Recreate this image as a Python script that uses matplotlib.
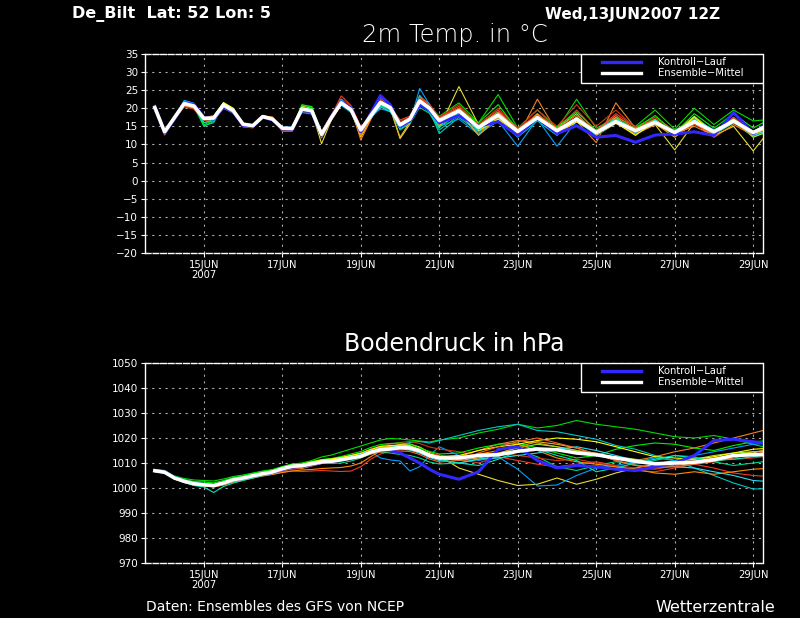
import matplotlib
matplotlib.use("Agg")
import matplotlib.pyplot as plt
from matplotlib.patches import Rectangle
from matplotlib.lines import Line2D

# time steps: hours after 13JUN2007 00Z (6-hourly to 21JUN, then 12-hourly)
hours = list(range(18, 193, 6)) + list(range(204, 397, 12))

tick_hours = [48, 96, 144, 192, 240, 288, 336, 384]
tick_labels = ["15JUN\n2007", "17JUN", "19JUN", "21JUN", "23JUN", "25JUN", "27JUN", "29JUN"]

member_colors = ["#00dc00", "#e6dc32", "#f08228", "#f03c28", "#00c8c8", "#00a0ff",
                 "#00d28c", "#a0e632", "#e6af2d", "#ff8c00", "#c83c14", "#00f000",
                 "#28dcf0", "#ffff00", "#fa6428", "#00e6b4"]

# ---- 2m temperature ----
temp_mean = [20.2, 13.5, 17.4, 21.3, 20.6, 17.2, 17.3, 20.9, 19.3, 15.6, 15.2, 17.7, 17.0, 14.5, 14.4,
             19.8, 19.3, 12.8, 17.4, 21.5, 19.6, 14.0, 17.9, 21.6, 20.2, 15.4, 17.0, 22.0, 20.0, 16.6,
             19.3, 14.7, 18.1, 13.6, 17.4, 13.8, 17.0, 13.3, 16.3, 13.8, 16.1, 13.3, 16.3, 13.5, 16.5, 13.3, 16.0]
temp_ctrl = [20.5, 13.2, 17.0, 21.5, 21.0, 17.5, 17.0, 20.5, 19.0, 15.3, 15.0, 17.5, 16.8, 14.3, 14.2,
             19.5, 19.0, 12.5, 17.6, 21.8, 20.0, 13.5, 18.5, 23.5, 21.0, 15.0, 16.5, 21.0, 19.5, 16.0,
             18.0, 15.0, 16.3, 12.5, 17.5, 13.0, 15.2, 12.0, 12.5, 10.6, 12.6, 12.9, 13.5, 12.5, 18.8, 13.0, 17.0]
temp_members = [
    [20.6, 13.8, 17.8, 21.8, 21.0, 16.5, 17.6, 21.2, 19.6, 15.4, 15.0, 17.4, 16.8, 14.2, 14.6, 20.8, 20.5, 13.2, 17.8, 22.2, 19.8, 13.8, 17.6, 20.8, 19.6, 15.8, 17.4, 22.5, 20.6, 17.8,
     21.5, 16.0, 23.8, 14.5, 19.6, 14.2, 22.5, 14.5, 17.5, 15.0, 19.5, 14.2, 20.0, 15.5, 19.5, 16.5, 17.0],
    [20.0, 13.2, 17.6, 21.6, 20.2, 17.0, 17.0, 21.4, 19.9, 15.8, 15.0, 17.8, 17.2, 14.2, 14.0, 19.5, 19.2, 10.2, 16.8, 21.0, 19.2, 12.0, 17.0, 21.2, 20.0, 11.6, 15.6, 22.5, 19.4, 14.6,
     26.0, 15.5, 18.5, 13.0, 18.0, 12.8, 17.5, 12.5, 15.8, 13.0, 15.5, 8.5, 16.0, 12.5, 15.0, 8.2, 15.0],
    [20.4, 12.6, 17.0, 20.8, 20.0, 16.8, 17.0, 20.4, 18.8, 15.2, 14.8, 17.9, 17.6, 14.0, 13.8, 19.2, 18.8, 12.4, 17.6, 22.0, 20.2, 11.2, 16.8, 22.8, 20.8, 15.0, 16.6, 23.5, 20.8, 16.2,
     18.5, 13.0, 17.5, 12.2, 22.5, 13.5, 16.5, 10.5, 21.5, 14.5, 17.0, 13.0, 15.0, 12.5, 17.5, 12.5, 15.5],
    [20.8, 13.0, 17.2, 20.5, 19.8, 16.0, 16.6, 20.2, 19.0, 14.8, 14.6, 17.6, 17.2, 13.6, 13.6, 19.0, 19.0, 13.4, 18.0, 23.4, 20.8, 14.8, 17.6, 22.0, 20.4, 16.8, 17.8, 23.2, 21.2, 17.4,
     20.5, 15.5, 19.5, 14.2, 18.5, 14.5, 19.5, 13.8, 18.5, 14.8, 17.5, 13.8, 17.5, 13.0, 17.5, 13.5, 16.5],
    [20.2, 13.8, 17.8, 22.0, 21.2, 15.2, 16.0, 21.0, 19.6, 15.6, 15.0, 17.5, 16.8, 14.4, 14.2, 19.6, 19.5, 13.0, 17.2, 21.2, 19.4, 14.5, 18.0, 21.0, 19.4, 14.2, 16.2, 23.5, 19.5, 13.0,
     17.5, 13.5, 17.0, 12.0, 16.5, 12.5, 17.5, 12.8, 16.5, 13.5, 16.0, 12.8, 16.5, 13.0, 16.5, 12.0, 14.5],
    [20.0, 13.4, 17.6, 22.2, 21.4, 16.8, 16.6, 20.0, 18.6, 15.2, 15.0, 17.6, 16.8, 14.8, 14.8, 18.8, 18.4, 13.2, 17.4, 20.8, 18.8, 14.6, 17.8, 19.8, 19.2, 14.6, 16.0, 25.5, 21.0, 15.0,
     17.0, 12.8, 16.5, 9.5, 17.0, 9.5, 16.5, 12.5, 16.0, 13.0, 16.0, 13.0, 17.0, 14.0, 16.0, 13.0, 15.5],
    [20.3, 13.6, 17.5, 21.2, 20.4, 15.0, 16.4, 20.6, 19.0, 15.4, 15.2, 17.4, 16.8, 14.6, 14.6, 20.2, 19.8, 13.0, 17.2, 21.6, 19.8, 14.2, 17.6, 20.6, 19.6, 14.0, 15.8, 20.2, 18.6, 14.0,
     18.0, 14.0, 17.5, 13.0, 17.0, 13.5, 17.0, 13.5, 16.5, 14.0, 16.0, 14.0, 16.5, 13.8, 17.0, 13.5, 16.0],
    [20.4, 13.4, 17.6, 21.4, 20.8, 17.6, 17.8, 21.4, 19.8, 15.8, 15.4, 17.8, 17.0, 14.6, 14.4, 20.6, 20.0, 12.0, 17.0, 21.8, 19.6, 13.0, 18.2, 22.2, 20.4, 15.0, 16.8, 21.5, 20.0, 17.0,
     20.0, 15.2, 19.0, 14.0, 18.0, 14.5, 18.5, 12.5, 17.0, 14.2, 16.8, 13.2, 17.8, 13.5, 17.0, 12.0, 14.0],
    [20.1, 13.0, 17.2, 21.0, 20.4, 17.4, 17.4, 20.8, 19.2, 15.4, 15.0, 17.8, 17.2, 14.4, 14.2, 19.6, 19.0, 13.4, 17.8, 21.4, 19.4, 13.2, 17.4, 21.4, 20.0, 12.0, 16.2, 22.8, 20.4, 15.2,
     19.0, 12.5, 17.5, 13.0, 18.5, 12.8, 17.0, 13.0, 17.5, 13.5, 15.8, 12.0, 16.0, 12.8, 16.0, 12.8, 15.0],
    [20.5, 13.6, 17.4, 20.6, 20.0, 17.2, 17.4, 20.6, 19.2, 15.4, 15.4, 18.0, 17.4, 14.0, 14.0, 19.4, 19.2, 11.8, 16.8, 21.2, 19.6, 12.6, 17.0, 21.4, 20.2, 15.6, 17.4, 21.8, 20.2, 16.8,
     19.0, 14.5, 18.0, 12.8, 17.8, 13.2, 17.5, 12.8, 16.0, 12.8, 15.5, 12.8, 16.0, 12.0, 15.5, 12.5, 14.5],
    [20.7, 12.8, 16.8, 20.4, 19.8, 16.6, 16.8, 20.0, 18.8, 15.0, 14.6, 17.4, 17.0, 13.8, 13.8, 19.2, 19.0, 13.6, 18.2, 22.6, 20.6, 14.8, 17.8, 22.4, 20.8, 16.4, 17.6, 22.8, 20.6, 17.6,
     21.0, 15.5, 20.0, 14.5, 19.5, 15.0, 21.0, 15.0, 19.5, 14.5, 17.5, 13.5, 17.0, 13.5, 16.0, 13.0, 16.0],
    [20.3, 13.6, 17.6, 21.6, 20.8, 15.4, 16.8, 21.2, 19.8, 15.8, 15.4, 17.6, 16.8, 14.6, 14.6, 21.0, 20.4, 12.6, 17.0, 21.4, 19.4, 14.0, 18.0, 21.0, 19.8, 16.0, 17.2, 21.8, 20.4, 16.8,
     19.5, 16.0, 21.0, 14.0, 17.5, 14.8, 19.0, 13.8, 17.0, 14.5, 18.0, 13.2, 18.5, 14.5, 18.5, 14.5, 17.5],
    [20.2, 13.8, 17.4, 21.6, 20.8, 17.0, 17.2, 20.8, 19.4, 15.6, 15.2, 17.6, 17.0, 14.4, 14.4, 19.4, 19.0, 12.8, 17.6, 22.4, 19.4, 14.4, 17.2, 20.4, 19.0, 15.4, 16.6, 21.2, 19.2, 15.8,
     18.5, 14.2, 18.8, 13.5, 17.0, 13.8, 16.8, 14.0, 17.0, 14.0, 16.5, 13.5, 17.0, 14.0, 16.8, 12.5, 14.5],
    [20.0, 13.4, 17.6, 21.4, 20.6, 17.6, 17.8, 21.6, 20.0, 15.6, 15.2, 17.8, 17.0, 14.6, 14.4, 19.8, 19.4, 12.6, 17.4, 21.2, 19.2, 13.6, 17.6, 21.8, 20.2, 15.8, 17.2, 21.6, 19.6, 16.0,
     19.5, 13.8, 17.0, 13.2, 17.5, 13.0, 16.2, 13.2, 16.0, 12.5, 16.5, 13.0, 17.5, 13.0, 17.0, 12.8, 15.5],
    [20.4, 13.2, 17.2, 21.0, 20.6, 17.6, 17.8, 20.6, 19.0, 15.8, 15.4, 18.0, 17.2, 14.2, 14.2, 19.6, 19.2, 13.0, 17.6, 21.8, 19.8, 14.0, 17.8, 21.8, 20.4, 15.8, 17.2, 22.4, 20.4, 17.2,
     20.0, 14.8, 18.8, 14.2, 18.0, 14.5, 18.0, 13.8, 18.0, 14.2, 16.5, 13.0, 15.5, 13.0, 16.5, 13.5, 15.0],
    [20.2, 13.4, 17.2, 21.2, 20.6, 16.0, 16.8, 20.4, 19.2, 15.4, 15.2, 17.6, 17.0, 14.4, 14.4, 20.0, 19.6, 13.4, 17.6, 21.2, 19.2, 13.6, 17.6, 21.0, 19.8, 15.0, 16.6, 21.0, 19.0, 14.8,
     18.5, 14.0, 18.0, 13.8, 17.0, 14.0, 17.5, 13.5, 16.0, 13.5, 16.8, 12.5, 17.0, 12.8, 16.0, 13.5, 16.5],
]

# ---- surface pressure ----
pres_mean = [1006.9, 1006.3, 1004.0, 1002.7, 1001.7, 1001.3, 1001.0, 1002.0, 1003.3, 1004.0, 1004.9, 1005.7, 1006.4, 1007.7, 1008.7,
             1008.9, 1009.7, 1010.4, 1010.7, 1011.3, 1012.0, 1012.7, 1014.3, 1015.3, 1015.6, 1016.2, 1016.0, 1014.9, 1013.0, 1012.0,
             1012.0, 1013.0, 1013.3, 1014.7, 1015.6, 1015.3, 1014.0, 1013.3, 1012.0, 1010.7, 1009.7, 1010.0, 1010.3, 1011.3, 1013.0, 1013.3, 1013.5]
pres_ctrl = [1007.0, 1006.4, 1004.2, 1002.8, 1001.8, 1001.4, 1001.2, 1002.0, 1003.2, 1004.0, 1004.8, 1005.6, 1006.2, 1007.4, 1008.4,
             1008.6, 1009.4, 1010.2, 1010.6, 1011.2, 1012.0, 1012.8, 1014.4, 1015.2, 1015.0, 1014.0, 1012.0, 1010.0, 1007.5, 1005.5,
             1003.5, 1006.5, 1015.5, 1016.5, 1011.0, 1008.0, 1009.0, 1008.5, 1007.5, 1007.0, 1008.5, 1010.0, 1013.0, 1019.0, 1019.5, 1018.5, 1017.5]
pres_members = [
    [1007.2, 1006.8, 1004.8, 1003.8, 1003.2, 1003.0, 1002.8, 1003.6, 1004.6, 1005.2, 1006.0, 1006.8, 1007.4, 1008.6, 1009.6, 1010.0, 1011.0, 1012.4, 1013.2, 1014.4, 1015.6, 1016.8, 1018.0, 1019.2, 1019.8, 1019.6, 1019.2, 1018.8, 1018.4, 1019.2,
     1020.0, 1022.0, 1023.5, 1025.5, 1024.0, 1025.0, 1027.0, 1025.5, 1024.5, 1023.5, 1022.0, 1020.5, 1020.0, 1021.0, 1019.5, 1017.5, 1015.5],
    [1006.6, 1006.0, 1003.6, 1002.2, 1001.4, 1001.0, 1000.6, 1001.6, 1003.0, 1003.8, 1004.8, 1005.8, 1006.6, 1008.0, 1009.0, 1009.4, 1010.2, 1010.8, 1011.2, 1012.0, 1013.0, 1014.0, 1015.2, 1016.0, 1016.6, 1017.2, 1017.6, 1016.4, 1014.2, 1012.8,
     1008.0, 1005.5, 1003.0, 1001.0, 1001.5, 1004.0, 1001.5, 1003.5, 1006.0, 1008.0, 1009.5, 1011.0, 1012.0, 1011.5, 1013.0, 1014.5, 1015.0],
    [1006.8, 1006.2, 1003.8, 1002.6, 1001.6, 1001.0, 1000.4, 1001.4, 1002.6, 1003.4, 1004.2, 1005.0, 1005.6, 1006.8, 1007.6, 1007.8, 1008.8, 1009.8, 1010.2, 1011.0, 1011.8, 1012.6, 1014.0, 1014.8, 1015.2, 1015.6, 1015.4, 1014.0, 1012.6, 1011.8,
     1012.5, 1015.0, 1017.5, 1019.0, 1018.0, 1016.5, 1015.0, 1014.0, 1012.0, 1011.0, 1012.5, 1014.5, 1016.0, 1018.0, 1020.0, 1022.0, 1024.0],
    [1007.0, 1006.4, 1004.2, 1002.8, 1001.8, 1001.6, 1001.4, 1002.2, 1003.4, 1004.0, 1004.6, 1005.2, 1005.8, 1006.4, 1006.8, 1006.6, 1006.8, 1007.0, 1006.8, 1006.6, 1006.8, 1008.5, 1011.5, 1013.6, 1014.6, 1015.4, 1015.2, 1014.4, 1013.6, 1013.2,
     1011.5, 1010.0, 1012.5, 1011.0, 1009.5, 1008.5, 1009.5, 1010.5, 1009.0, 1007.0, 1006.5, 1008.0, 1009.5, 1008.0, 1006.0, 1005.0, 1004.5],
    [1007.4, 1007.0, 1004.6, 1003.2, 1002.2, 1001.8, 1001.4, 1002.6, 1003.8, 1004.4, 1005.4, 1006.2, 1006.8, 1008.2, 1009.2, 1009.4, 1010.0, 1010.8, 1011.2, 1011.8, 1012.4, 1013.2, 1014.6, 1015.6, 1016.2, 1017.4, 1018.2, 1018.6, 1018.0, 1019.0,
     1021.0, 1023.0, 1024.5, 1025.5, 1023.0, 1022.5, 1021.0, 1019.5, 1017.0, 1015.5, 1013.0, 1011.0, 1008.0, 1005.0, 1002.0, 999.6, 999.8],
    [1006.8, 1006.2, 1004.0, 1002.6, 1001.6, 1001.2, 1001.0, 1001.8, 1003.2, 1003.8, 1004.6, 1005.4, 1006.0, 1007.4, 1008.4, 1008.6, 1009.4, 1010.2, 1010.6, 1011.2, 1012.2, 1013.0, 1014.6, 1012.0, 1011.2, 1010.8, 1006.8, 1008.5, 1013.0, 1016.5,
     1013.0, 1011.0, 1012.5, 1007.5, 1000.8, 1001.2, 1005.0, 1008.0, 1009.0, 1010.5, 1012.0, 1011.0, 1013.0, 1014.5, 1016.0, 1017.5, 1018.0],
    [1007.0, 1006.4, 1004.2, 1002.8, 1001.8, 1001.4, 1001.0, 1002.0, 1003.2, 1003.8, 1004.6, 1005.4, 1006.2, 1007.6, 1008.6, 1008.8, 1009.4, 1010.0, 1009.8, 1010.0, 1010.8, 1012.0, 1013.6, 1014.4, 1014.0, 1013.4, 1013.0, 1012.0, 1010.4, 1009.6,
     1010.0, 1011.5, 1013.0, 1015.0, 1012.5, 1008.5, 1007.0, 1009.0, 1010.5, 1009.5, 1011.0, 1013.0, 1012.5, 1010.5, 1009.0, 1010.0, 1011.0],
    [1006.6, 1006.0, 1003.8, 1002.4, 1001.4, 1001.0, 1000.8, 1001.8, 1003.2, 1004.2, 1005.2, 1006.2, 1007.0, 1008.4, 1009.4, 1009.6, 1010.4, 1011.2, 1011.6, 1012.2, 1012.8, 1013.4, 1014.8, 1015.8, 1016.2, 1016.6, 1016.4, 1015.2, 1013.4, 1012.4,
     1012.0, 1013.5, 1014.0, 1016.0, 1017.5, 1016.5, 1015.0, 1013.0, 1012.5, 1011.5, 1010.0, 1010.5, 1011.5, 1013.0, 1014.0, 1014.5, 1015.0],
    [1006.8, 1006.2, 1003.8, 1002.6, 1001.6, 1001.2, 1000.8, 1001.8, 1003.2, 1004.0, 1005.0, 1005.8, 1006.6, 1007.8, 1008.8, 1009.2, 1010.0, 1010.8, 1011.2, 1011.8, 1012.6, 1013.4, 1015.0, 1016.2, 1016.6, 1017.4, 1017.0, 1015.4, 1013.4, 1012.0,
     1011.0, 1012.0, 1013.5, 1016.5, 1018.5, 1017.5, 1016.0, 1013.5, 1011.0, 1009.0, 1008.5, 1009.0, 1010.0, 1012.0, 1013.0, 1014.0, 1016.0],
    [1006.6, 1006.0, 1003.6, 1002.2, 1001.2, 1000.8, 1000.4, 1001.2, 1002.4, 1003.2, 1004.0, 1004.8, 1005.4, 1006.2, 1006.8, 1007.2, 1007.4, 1007.8, 1008.0, 1008.2, 1008.8, 1010.0, 1012.5, 1014.8, 1015.4, 1015.8, 1015.6, 1014.4, 1012.8, 1011.8,
     1012.5, 1013.5, 1015.0, 1017.5, 1015.0, 1012.0, 1010.5, 1009.5, 1008.5, 1007.5, 1006.0, 1005.5, 1006.5, 1005.5, 1006.5, 1007.5, 1008.0],
    [1007.0, 1006.6, 1004.4, 1003.0, 1002.0, 1001.6, 1001.4, 1002.4, 1003.6, 1004.2, 1004.8, 1005.4, 1006.0, 1007.2, 1008.0, 1008.4, 1009.2, 1010.0, 1010.6, 1011.4, 1012.6, 1013.8, 1015.6, 1016.8, 1017.6, 1018.2, 1018.6, 1017.8, 1016.4, 1015.6,
     1014.5, 1013.0, 1014.0, 1013.0, 1012.0, 1011.0, 1011.5, 1010.0, 1009.0, 1008.0, 1007.5, 1009.0, 1011.0, 1012.5, 1011.5, 1012.0, 1013.0],
    [1007.2, 1006.8, 1004.6, 1003.4, 1002.6, 1002.4, 1002.0, 1003.0, 1004.2, 1004.8, 1005.8, 1006.6, 1007.2, 1008.4, 1009.4, 1009.8, 1010.6, 1011.4, 1011.8, 1012.6, 1013.6, 1014.6, 1016.2, 1017.4, 1017.8, 1018.0, 1017.6, 1016.0, 1014.6, 1013.6,
     1014.0, 1016.0, 1017.5, 1018.0, 1016.0, 1014.0, 1012.0, 1013.0, 1015.5, 1017.0, 1018.0, 1017.5, 1016.0, 1015.0, 1017.0, 1018.5, 1019.0],
    [1006.8, 1006.4, 1004.2, 1002.8, 1001.8, 1001.4, 1001.2, 1002.2, 1003.4, 1004.0, 1004.8, 1005.6, 1006.2, 1007.4, 1008.4, 1008.6, 1009.4, 1010.2, 1010.4, 1011.0, 1011.8, 1012.6, 1014.2, 1015.2, 1015.4, 1015.6, 1015.2, 1014.0, 1012.2, 1011.0,
     1010.0, 1011.5, 1012.0, 1013.0, 1014.0, 1015.5, 1016.5, 1015.0, 1013.0, 1011.0, 1009.5, 1008.5, 1008.0, 1006.5, 1005.0, 1003.0, 1002.5],
    [1007.0, 1006.4, 1004.0, 1002.6, 1001.6, 1001.0, 1000.6, 1001.6, 1003.0, 1003.8, 1004.8, 1005.8, 1006.6, 1007.8, 1009.0, 1009.4, 1010.4, 1011.2, 1011.6, 1012.2, 1013.0, 1013.8, 1015.4, 1016.6, 1017.0, 1017.2, 1016.8, 1015.4, 1013.6, 1012.6,
     1013.0, 1015.0, 1016.5, 1017.5, 1019.0, 1020.0, 1019.5, 1018.5, 1016.5, 1014.5, 1012.5, 1012.0, 1011.5, 1012.5, 1014.0, 1015.5, 1016.0],
    [1006.6, 1006.2, 1003.8, 1002.4, 1001.4, 1001.0, 1000.6, 1001.6, 1002.8, 1003.6, 1004.4, 1005.2, 1005.8, 1007.0, 1008.0, 1008.2, 1009.0, 1009.8, 1010.2, 1010.8, 1011.6, 1012.2, 1013.6, 1014.4, 1014.6, 1014.8, 1014.6, 1013.4, 1011.6, 1010.4,
     1011.0, 1014.0, 1016.5, 1018.5, 1020.0, 1018.0, 1016.0, 1013.5, 1011.0, 1009.0, 1008.0, 1008.5, 1009.5, 1010.5, 1012.0, 1013.5, 1015.0],
    [1006.8, 1006.2, 1003.8, 1002.2, 1001.0, 1000.4, 998.2, 1000.6, 1002.0, 1003.0, 1004.0, 1005.0, 1005.8, 1007.2, 1008.2, 1008.6, 1009.4, 1010.2, 1010.6, 1011.4, 1012.4, 1013.4, 1015.0, 1015.8, 1016.2, 1016.8, 1016.6, 1015.2, 1013.0, 1011.4,
     1010.0, 1009.0, 1011.5, 1014.5, 1015.5, 1013.0, 1011.0, 1006.5, 1008.0, 1010.0, 1011.5, 1013.0, 1012.0, 1011.0, 1011.5, 1012.5, 1013.5],
]

CTRL_COLOR = "#3228ff"
GRID_COLOR = "#a8a8a8"

fig = plt.figure(figsize=(8.0, 6.18), dpi=100, facecolor="black")


def style_panel(ax, ylim, ystep):
    ax.set_facecolor("black")
    ax.set_xlim(12, 390)
    ax.set_ylim(*ylim)
    ax.set_yticks(range(ylim[0], ylim[1] + 1, ystep))
    ax.set_xticks(tick_hours)
    ax.set_xticklabels(tick_labels, linespacing=1.0)
    ax.tick_params(colors="white", labelsize=7.5, length=3, width=0.8, pad=2)
    ax.tick_params(axis="x", labelsize=7.2)
    ax.grid(True, color=GRID_COLOR, linestyle=(0, (2, 4)), linewidth=0.8)
    for side in ("left", "right"):
        ax.spines[side].set_color("white")
        ax.spines[side].set_linewidth(1.0)
    for side in ("top", "bottom"):
        ax.spines[side].set_color("white")
        ax.spines[side].set_linewidth(1.0)
        ax.spines[side].set_linestyle((0, (4, 1.5)))
    # legend box in the upper right corner
    ax.add_patch(Rectangle((0.7055, 0.8535), 0.2945, 0.1465, transform=ax.transAxes,
                           facecolor="black", edgecolor="white", linewidth=1.0, zorder=5))
    ax.add_line(Line2D([0.7395, 0.802], [0.962, 0.962], transform=ax.transAxes,
                       color=CTRL_COLOR, linewidth=2.4, zorder=6))
    ax.add_line(Line2D([0.7395, 0.802], [0.906, 0.906], transform=ax.transAxes,
                       color="white", linewidth=2.4, zorder=6))
    ax.text(0.8306, 0.962, "Kontroll\u2212Lauf", transform=ax.transAxes, color="white",
            fontsize=7.2, va="center", ha="left", zorder=6)
    ax.text(0.8306, 0.906, "Ensemble\u2212Mittel", transform=ax.transAxes, color="white",
            fontsize=7.2, va="center", ha="left", zorder=6)


def draw_ensemble(ax, members, ctrl, mean):
    for vals, col in zip(members, member_colors):
        ax.plot(hours, vals, color=col, linewidth=0.8, zorder=2)
    ax.plot(hours, ctrl, color=CTRL_COLOR, linewidth=2.2, zorder=3)
    ax.plot(hours, mean, color="white", linewidth=2.6, zorder=4)


ax1 = fig.add_axes([145 / 800, 1 - 253 / 618, 618 / 800, 199 / 618])
style_panel(ax1, (-20, 35), 5)
draw_ensemble(ax1, temp_members, temp_ctrl, temp_mean)

ax2 = fig.add_axes([145 / 800, 1 - 563 / 618, 618 / 800, 200 / 618])
style_panel(ax2, (970, 1050), 10)
draw_ensemble(ax2, pres_members, pres_ctrl, pres_mean)

# header and titles
fig.text(72 / 800, 1 - 14 / 618, "De_Bilt  Lat: 52 Lon: 5", color="white", fontsize=11.5,
         fontweight="bold", ha="left", va="center")
fig.text(545 / 800, 1 - 14 / 618, "Wed,13JUN2007 12Z", color="white", fontsize=11,
         fontweight="bold", ha="left", va="center")
fig.text(454.5 / 800, 1 - 42.3 / 618, "2m Temp. in \u00b0C", color="white", fontsize=17.5,
         fontweight="light", ha="center", va="baseline")
fig.text(454 / 800, 1 - 350.7 / 618, "Bodendruck in hPa", color="white", fontsize=17,
         ha="center", va="baseline")
fig.text(146 / 800, 1 - 607 / 618, "Daten: Ensembles des GFS von NCEP", color="white",
         fontsize=10, ha="left", va="center")
fig.text(775 / 800, 1 - 607 / 618, "Wetterzentrale", color="white", fontsize=11.5,
         ha="right", va="center")

fig.savefig("out.png", dpi=100, facecolor="black")
